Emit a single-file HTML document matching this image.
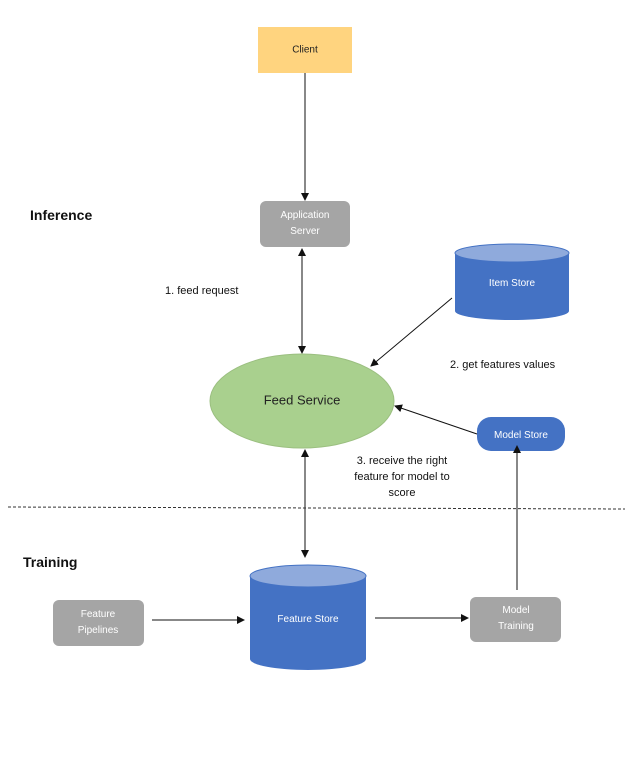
<!DOCTYPE html>
<html><head><meta charset="utf-8"><style>
body{margin:0;background:#fff;width:633px;height:766px;overflow:hidden}
svg text{font-family:"Liberation Sans",sans-serif}
</style></head><body>
<svg width="633" height="766" viewBox="0 0 633 766" xmlns="http://www.w3.org/2000/svg">
<defs><marker id="a" markerWidth="8" markerHeight="8" refX="7" refY="4" orient="auto-start-reverse" markerUnits="userSpaceOnUse"><path d="M0,0 L8,4 L0,8 z" fill="#111"/></marker></defs>
<rect x="258" y="27" width="94" height="46" fill="#ffd47f"/>
<text x="305" y="50" font-size="10" fill="#222" text-anchor="middle" dominant-baseline="middle">Client</text>
<line x1="305" y1="73" x2="305" y2="200" stroke="#111" stroke-width="1" marker-end="url(#a)"/>
<rect x="260" y="201" width="90" height="46" rx="6" fill="#a5a5a5"/>
<text x="305" y="218" font-size="10" fill="#fff" text-anchor="middle">Application</text>
<text x="305" y="234" font-size="10" fill="#fff" text-anchor="middle">Server</text>
<text x="30" y="220" font-size="14" font-weight="bold" fill="#111">Inference</text>
<text x="165" y="294" font-size="11" fill="#111">1. feed request</text>
<line x1="302" y1="249" x2="302" y2="353" stroke="#111" marker-start="url(#a)" marker-end="url(#a)"/>
<ellipse cx="302" cy="401" rx="92" ry="47" fill="#a9d08e" stroke="#9bbf80"/>
<text x="302" y="401" font-size="13" fill="#222" text-anchor="middle" dominant-baseline="middle">Feed Service</text>
<path d="M455,253 V311 A57,9 0 0 0 569,311 V253" fill="#4472c4"/>
<ellipse cx="512" cy="253" rx="57" ry="9" fill="#8faadc" stroke="#4472c4"/>
<text x="512" y="286" font-size="10" fill="#fff" text-anchor="middle">Item Store</text>
<line x1="452" y1="298" x2="371" y2="366" stroke="#111" marker-end="url(#a)"/>
<text x="450" y="368" font-size="11" fill="#111">2. get features values</text>
<rect x="477" y="417" width="88" height="34" rx="14" fill="#4472c4"/>
<text x="521" y="438" font-size="10" fill="#fff" text-anchor="middle">Model Store</text>
<line x1="477" y1="434" x2="395" y2="406" stroke="#111" marker-end="url(#a)"/>
<text x="402" y="464" font-size="11" fill="#111" text-anchor="middle">3. receive the right</text>
<text x="402" y="480" font-size="11" fill="#111" text-anchor="middle">feature for model to</text>
<text x="402" y="496" font-size="11" fill="#111" text-anchor="middle">score</text>
<line x1="305" y1="450" x2="305" y2="557" stroke="#111" marker-start="url(#a)" marker-end="url(#a)"/>
<line x1="8" y1="507" x2="625" y2="509" stroke="#333" stroke-dasharray="3,2"/>
<text x="23" y="567" font-size="14" font-weight="bold" fill="#111">Training</text>
<path d="M250,576 V659 A58,11 0 0 0 366,659 V576" fill="#4472c4"/>
<ellipse cx="308" cy="576" rx="58" ry="11" fill="#8faadc" stroke="#4472c4"/>
<text x="308" y="622" font-size="10" fill="#fff" text-anchor="middle">Feature Store</text>
<rect x="53" y="600" width="91" height="46" rx="6" fill="#a5a5a5"/>
<text x="98" y="617" font-size="10" fill="#fff" text-anchor="middle">Feature</text>
<text x="98" y="633" font-size="10" fill="#fff" text-anchor="middle">Pipelines</text>
<line x1="152" y1="620" x2="244" y2="620" stroke="#111" marker-end="url(#a)"/>
<line x1="375" y1="618" x2="468" y2="618" stroke="#111" marker-end="url(#a)"/>
<rect x="470" y="597" width="91" height="45" rx="6" fill="#a5a5a5"/>
<text x="516" y="613" font-size="10" fill="#fff" text-anchor="middle">Model</text>
<text x="516" y="629" font-size="10" fill="#fff" text-anchor="middle">Training</text>
<line x1="517" y1="590" x2="517" y2="446" stroke="#111" marker-end="url(#a)"/>
</svg>
</body></html>
